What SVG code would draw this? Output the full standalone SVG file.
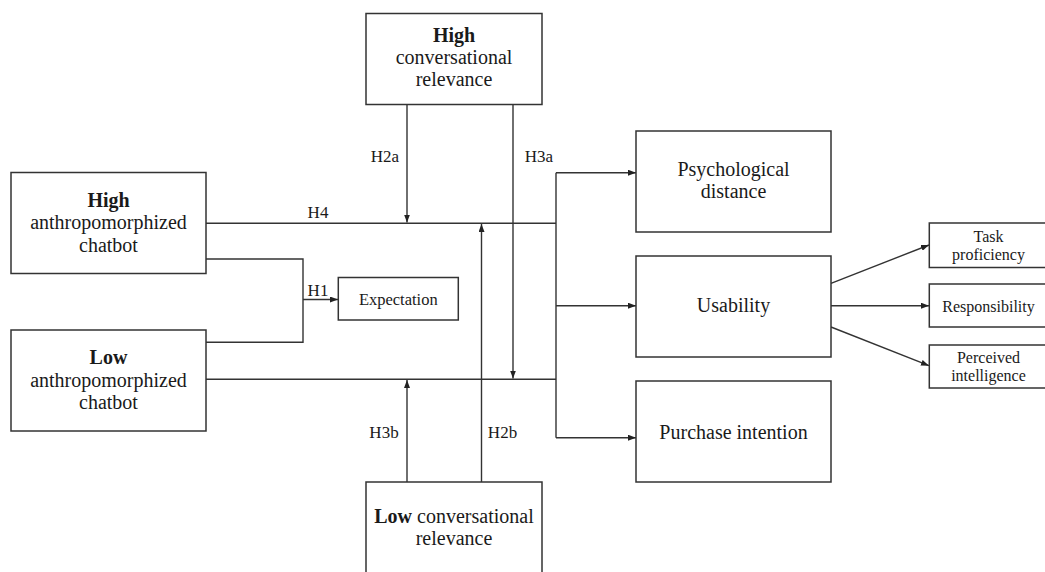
<svg xmlns="http://www.w3.org/2000/svg" width="1045" height="572" viewBox="0 0 1045 572">
<style>
  .box { fill: #fff; stroke: #333; stroke-width: 1.5; }
  .ln { fill: none; stroke: #333; stroke-width: 1.4; }
  .t { font-family: "Liberation Serif", "Times New Roman", serif; fill: #1a1a1a; text-anchor: middle; }
  .big { font-size: 20px; }
  .sm { font-size: 16px; }
  .lab { font-size: 17px; }
  .b { font-weight: bold; }
</style>
<defs>
  <marker id="arr" markerUnits="userSpaceOnUse" markerWidth="8" markerHeight="6" refX="8" refY="3" orient="auto">
    <path d="M0,0 L8,3 L0,6 z" fill="#222"/>
  </marker>
</defs>
<rect width="1045" height="572" fill="#fff"/>

<g id="connectors">
  <path class="ln" d="M206,223.3 H556"/>
  <path class="ln" d="M206,379.3 H556"/>
  <path class="ln" d="M556,172.7 V437.7"/>
  <path class="ln" d="M556,172.7 H636" marker-end="url(#arr)"/>
  <path class="ln" d="M556,305.7 H636" marker-end="url(#arr)"/>
  <path class="ln" d="M556,437.7 H636" marker-end="url(#arr)"/>
  <path class="ln" d="M407,104.5 V222.5" marker-end="url(#arr)"/>
  <path class="ln" d="M513,104.5 V378.5" marker-end="url(#arr)"/>
  <path class="ln" d="M481.5,482 V224" marker-end="url(#arr)"/>
  <path class="ln" d="M407,482 V380" marker-end="url(#arr)"/>
  <path class="ln" d="M206,259 H303 V342.3 H206"/>
  <path class="ln" d="M303,299.5 H338" marker-end="url(#arr)"/>
  <path class="ln" d="M831,283.3 L929,245" marker-end="url(#arr)"/>
  <path class="ln" d="M831,305.7 H929" marker-end="url(#arr)"/>
  <path class="ln" d="M831,327 L929,365.7" marker-end="url(#arr)"/>
  <text class="t lab" x="318" y="218">H4</text>
  <text class="t lab" x="385" y="162">H2a</text>
  <text class="t lab" x="539" y="162">H3a</text>
  <text class="t lab" x="318" y="296">H1</text>
  <text class="t lab" x="384" y="438">H3b</text>
  <text class="t lab" x="502.5" y="438">H2b</text>
</g>

<g id="high-conv">
  <rect class="box" x="366" y="13.5" width="176" height="91"/>
  <text class="t big b" x="454" y="41.5">High</text>
  <text class="t big" x="454" y="63.5">conversational</text>
  <text class="t big" x="454" y="85.5">relevance</text>
</g>

<g id="high-anthro">
  <rect class="box" x="11" y="172.5" width="195" height="101"/>
  <text class="t big b" x="108.5" y="206.5">High</text>
  <text class="t big" x="108.5" y="229">anthropomorphized</text>
  <text class="t big" x="108.5" y="251.5">chatbot</text>
</g>

<g id="low-anthro">
  <rect class="box" x="11" y="330" width="195" height="101"/>
  <text class="t big b" x="108.5" y="364">Low</text>
  <text class="t big" x="108.5" y="386.5">anthropomorphized</text>
  <text class="t big" x="108.5" y="409">chatbot</text>
</g>

<g id="expectation">
  <rect class="box" x="338.3" y="277.5" width="120" height="42.5"/>
  <text class="t" style="font-size:16.5px" x="398.3" y="304.5">Expectation</text>
</g>

<g id="low-conv">
  <rect class="box" x="366" y="482" width="176" height="100"/>
  <text class="t big" x="454" y="523"><tspan class="b">Low</tspan> conversational</text>
  <text class="t big" x="454" y="545">relevance</text>
</g>

<g id="psych">
  <rect class="box" x="636" y="131" width="195" height="101"/>
  <text class="t big" x="733.5" y="175.5">Psychological</text>
  <text class="t big" x="733.5" y="198">distance</text>
</g>

<g id="usability">
  <rect class="box" x="636" y="256" width="195" height="101"/>
  <text class="t big" x="733.5" y="312">Usability</text>
</g>

<g id="purchase">
  <rect class="box" x="636" y="381" width="195" height="101"/>
  <text class="t big" x="733.5" y="438.5">Purchase intention</text>
</g>

<g id="task">
  <rect class="box" x="929.3" y="223" width="125" height="44.5"/>
  <text class="t sm" x="988.5" y="242">Task</text>
  <text class="t sm" x="988.5" y="260">proficiency</text>
</g>

<g id="responsibility">
  <rect class="box" x="929.3" y="284" width="125" height="43"/>
  <text class="t sm" x="988.5" y="312">Responsibility</text>
</g>

<g id="perceived">
  <rect class="box" x="929.3" y="345" width="125" height="43"/>
  <text class="t sm" x="988.5" y="362.5">Perceived</text>
  <text class="t sm" x="988.5" y="381">intelligence</text>
</g>
</svg>
